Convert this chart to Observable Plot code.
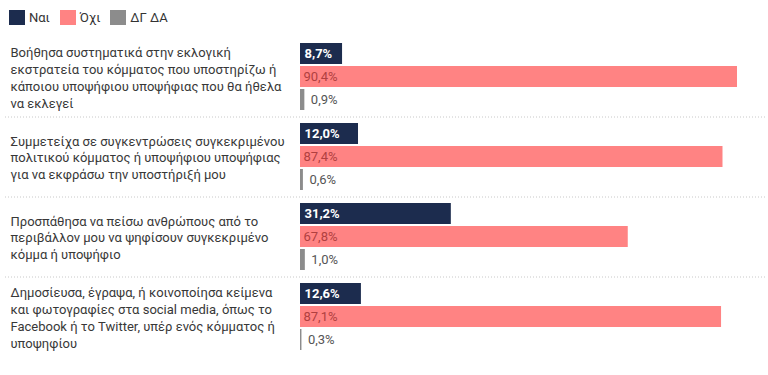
<!DOCTYPE html>
<html>
<head>
<meta charset="utf-8">
<script src="https://cdn.jsdelivr.net/npm/d3@7"></script>
<script src="https://cdn.jsdelivr.net/npm/@observablehq/plot@0.6"></script>
<style>
  html, body { margin: 0; padding: 0; background: #fff; }
  body { font-family: Roboto, "Noto Sans", sans-serif; width: 768px; height: 375px; overflow: hidden; }
  #legend { height: 34px; display: flex; align-items: center; padding-left: 9px; font-size: 13px; color: #333; }
  #legend .item { display: flex; align-items: center; margin-right: 10px; }
  #legend .sw { width: 16px; height: 15px; margin-right: 4px; }
  svg { display: block; }
</style>
</head>
<body>
<div id="legend"></div>
<div id="chart"></div>
<script>
const questions = [
  "Βοήθησα συστηματικά στην εκλογική\nεκστρατεία του κόμματος που υποστηρίζω ή\nκάποιου υποψήφιου υποψήφιας που θα ήθελα\nνα εκλεγεί",
  "Συμμετείχα σε συγκεντρώσεις συγκεκριμένου\nπολιτικού κόμματος ή υποψήφιου υποψήφιας\nγια να εκφράσω την υποστήριξή μου",
  "Προσπάθησα να πείσω ανθρώπους από το\nπεριβάλλον μου να ψηφίσουν συγκεκριμένο\nκόμμα ή υποψήφιο",
  "Δημοσίευσα, έγραψα, ή κοινοποίησα κείμενα\nκαι φωτογραφίες στα social media, όπως το\nFacebook ή το Twitter, υπέρ ενός κόμματος ή\nυποψηφίου"
];
const series = ["Ναι", "Όχι", "ΔΓ ΔΑ"];
const yes = [8.7, 12.0, 31.2, 12.6];
const no = [90.4, 87.4, 67.8, 87.1];
const dk = [0.9, 0.6, 1.0, 0.3];
const colors = ["#1c2c4e", "#ff8383", "#8c8c8c"];
const labelColors = ["#ffffff", "#b04040", "#555555"];

const valuesBySeries = [yes, no, dk];
const rows = [];
questions.forEach((q, i) => series.forEach((s, j) => rows.push({q, s, v: valuesBySeries[j][i], qi: i, si: j})));
const fmt = v => v.toFixed(1).replace(".", ",") + "%";

// legend
const legend = document.getElementById("legend");
series.forEach((s, j) => {
  const it = document.createElement("div");
  it.className = "item";
  it.innerHTML = `<span class="sw" style="background:${colors[j]}"></span><span>${s}</span>`;
  legend.appendChild(it);
});

const chart = Plot.plot({
  width: 768,
  height: 341,
  marginLeft: 0,
  marginRight: 0,
  marginTop: 8,
  marginBottom: 23,
  style: {fontFamily: "Roboto, 'Noto Sans', sans-serif", fontSize: "13px", background: "#fff"},
  x: {domain: [0, d3.max(no)], range: [300, 737], axis: null},
  y: {domain: series, axis: null, paddingInner: 0.09, paddingOuter: 0},
  fy: {domain: questions, axis: null, paddingInner: 0.16, paddingOuter: 0},
  color: {domain: series, range: colors},
  marks: [
    Plot.ruleY(rows.filter(d => d.si === 2 && d.qi < questions.length - 1), {
      y: "s", fy: "q", dy: 17, stroke: "#c8c8c8", strokeDasharray: "1,2", insetLeft: 5, insetRight: 3
    }),
    Plot.barX(rows, {x: "v", y: "s", fy: "q", fill: "s"}),
    Plot.text(questions.map(q => ({q})), {
      fy: "q", text: "q", frameAnchor: "left", dx: 10, textAnchor: "start",
      lineAnchor: "middle", lineHeight: 1.3, fill: "#383838", fontSize: 13
    }),
    Plot.text(rows.filter(d => d.si === 0), {
      x: 0, y: "s", fy: "q", text: d => fmt(d.v), textAnchor: "start", dx: 4,
      fill: labelColors[0], fontWeight: "bold", fontSize: 13
    }),
    Plot.text(rows.filter(d => d.si === 1), {
      x: 0, y: "s", fy: "q", text: d => fmt(d.v), textAnchor: "start", dx: 3,
      fill: labelColors[1], fontSize: 13
    }),
    Plot.text(rows.filter(d => d.si === 2), {
      x: "v", y: "s", fy: "q", text: d => fmt(d.v), textAnchor: "start", dx: 6,
      fill: labelColors[2], fontSize: 13
    })
  ]
});
document.getElementById("chart").appendChild(chart);
</script>
</body>
</html>
